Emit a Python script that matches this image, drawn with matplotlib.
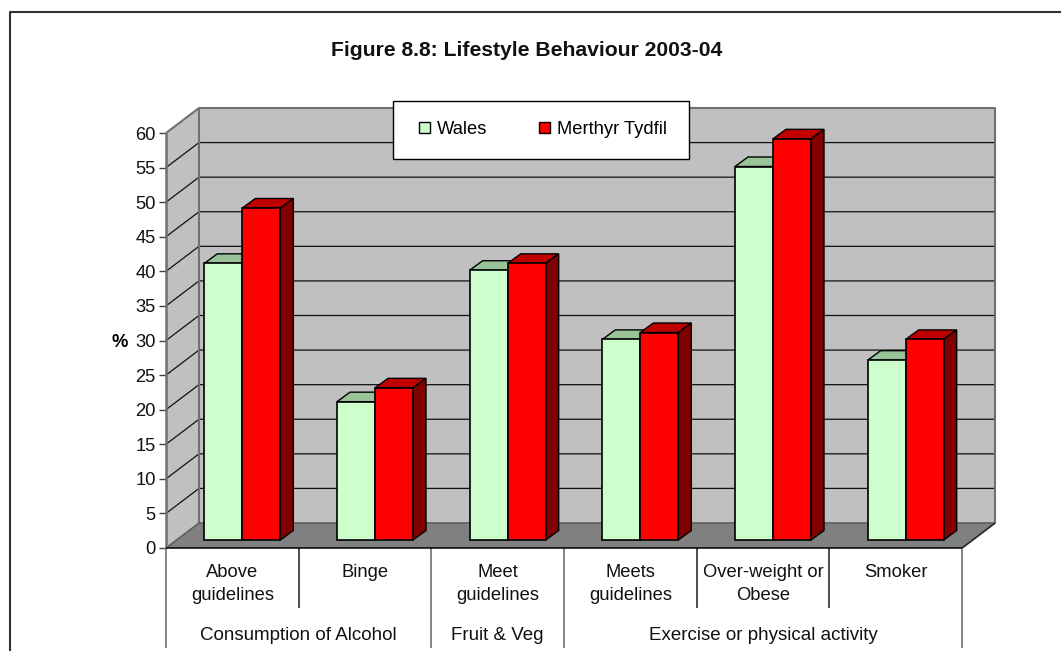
import matplotlib
matplotlib.use('Agg')
import matplotlib.pyplot as plt
from matplotlib.lines import Line2D
from matplotlib.patches import Patch, Polygon

plt.rcParams['font.family'] = ['Liberation Sans', 'DejaVu Sans']

labels = ['Above\nguidelines', 'Binge', 'Meet\nguidelines', 'Meets\nguidelines', 'Over-weight or\nObese', 'Smoker']
groups = ['Consumption of Alcohol', 'Fruit & Veg', 'Exercise or physical activity']
group_spans = [(0, 2), (2, 3), (3, 6)]
wales = [40, 20, 39, 29, 54, 26]
merthyr = [48, 22, 40, 30, 58, 29]
yticks = list(range(0, 65, 5))

W, H = 1061, 651
fs = 13.2

fig = plt.figure(figsize=(W / 100, H / 100), dpi=100)
ax = fig.add_axes([166 / W, (H - 548) / H, 796 / W, 415 / H])
ax.set_xlim(0, 6)
ax.set_ylim(0, 60)
ax.patch.set_visible(False)
for s in ax.spines.values():
    s.set_visible(False)

# pixels to data units
px = 6 / 796
py = 60 / 415
dx = 33 * px
dy = 25 * py


def pline(xs, ys, color='black', lw=1.0, z=2):
    ax.plot(xs, ys, color=color, lw=lw, zorder=z, clip_on=False, solid_capstyle='butt')


# walls and floor
ax.add_patch(Polygon([(dx, dy), (6 + dx, dy), (6 + dx, 60 + dy), (dx, 60 + dy)], fc='#C0C0C0', ec='none', zorder=1, clip_on=False))
ax.add_patch(Polygon([(0, 0), (dx, dy), (dx, 60 + dy), (0, 60)], fc='#C0C0C0', ec='none', zorder=1, clip_on=False))
ax.add_patch(Polygon([(0, 0), (6, 0), (6 + dx, dy), (dx, dy)], fc='#808080', ec='none', zorder=1, clip_on=False))

for v in yticks[1:-1]:
    pline([0, dx, 6 + dx], [v, v + dy, v + dy], '#111111', 0.9)

gray = '#707070'
pline([0, dx, 6 + dx, 6 + dx, 6], [60, 60 + dy, 60 + dy, dy, 0], gray, 1.5)
pline([dx, dx], [dy, 60 + dy], gray, 1.5)
pline([0, 0], [0, 60], gray, 1.8, 3)
pline([0, dx, 6 + dx], [0, dy, dy], '#606060', 1.2)
pline([6, 6 + dx], [0, dy], '#202020', 0.9)
pline([0, 6], [0, 0], 'black', 1.1, 3)

# bars
base = 8 * py
bw = 38 * px
bar_dx = 13 * px
bar_dy = 9.5 * py
series = [(wales, '#CCFFCC', '#99C499', '#668866', 0.289),
          (merthyr, '#FF0000', '#C00000', '#800000', 0.289 + 38 * px)]
for vals, face, top, side, off in series:
    xs = [i + off for i in range(len(vals))]
    ax.bar(xs, vals, width=bw, bottom=base, align='edge', color=face, edgecolor='black', lw=1.2, zorder=5, clip_on=False)
    for x, v in zip(xs, vals):
        t = base + v
        ax.add_patch(Polygon([(x, t), (x + bw, t), (x + bw + bar_dx, t + bar_dy), (x + bar_dx, t + bar_dy)],
                             fc=top, ec='black', lw=1.0, zorder=4, clip_on=False))
        ax.add_patch(Polygon([(x + bw, t), (x + bw + bar_dx, t + bar_dy), (x + bw + bar_dx, base + bar_dy), (x + bw, base)],
                             fc=side, ec='black', lw=1.0, zorder=4, clip_on=False))

# axis ticks
ax.set_yticks(yticks)
ax.set_xticks([])
ax.tick_params(axis='y', length=5, width=1.0, color='#404040', pad=2.5, labelsize=fs, labelcolor='#111111')
ax.set_ylabel('%', rotation=0, fontsize=fs, fontweight='bold', labelpad=0)
ax.yaxis.set_label_coords((120 - 166) / 796, (548 - 341 - 10) / 415)

# two level category axis
for i, lab in enumerate(labels):
    ax.annotate(lab, xy=(i + 0.5, 0), xytext=(0, -16), textcoords='offset pixels', ha='center', va='top',
                fontsize=fs, color='#111111', linespacing=1.47, annotation_clip=False)
for i in range(7):
    tall = i in (0, 2, 3, 6)
    pline([i, i], [0, -(100 if tall else 60) * py], gray if tall else '#303030', 1.2)
for name, (a, b) in zip(groups, group_spans):
    ax.annotate(name, xy=((a + b) / 2, 0), xytext=(0, -88), textcoords='offset pixels', ha='center', va='center',
                fontsize=13.5, color='#111111', annotation_clip=False)

# legend, box drawn separately so the padding can differ from the reference font padding
ax.add_patch(Polygon([((393 - 166) * px, (548 - 159) * py), ((689 - 166) * px, (548 - 159) * py),
                      ((689 - 166) * px, (548 - 101) * py), ((393 - 166) * px, (548 - 101) * py)],
                     fc='white', ec='black', lw=1.0, zorder=9, clip_on=False))
handles = [Patch(fc='#CCFFCC', ec='black', lw=1.0), Patch(fc='#FF0000', ec='black', lw=1.0)]
leg = ax.legend(handles, ['Wales', 'Merthyr Tydfil'], ncol=2, loc='center', frameon=False,
                bbox_to_anchor=((543 - 166) / 796, (548 - 129.5) / 415), fontsize=fs,
                borderpad=0, handlelength=0.6, handleheight=0.6, handletextpad=0.4,
                columnspacing=2.8, borderaxespad=0)
leg.set_zorder(10)

fig.text(527 / W, 1 - 50 / H, 'Figure 8.8: Lifestyle Behaviour 2003-04', ha='center', va='center',
         fontsize=15.2, fontweight='bold', color='#111111')

# chart border, cut by the image edge on the right and bottom
fig.add_artist(Line2D([9.5 / W, 9.5 / W, 1], [0, 1 - 12 / H, 1 - 12 / H], color='#303030', lw=1.5))

fig.savefig('out.png', dpi=100)
